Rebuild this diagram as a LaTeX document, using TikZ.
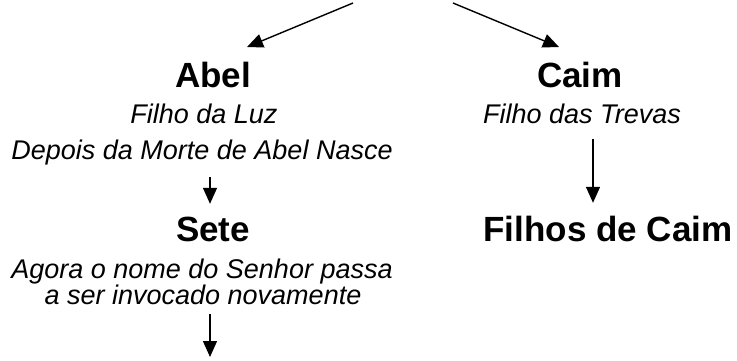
\documentclass[tikz,border=0pt]{standalone}
\usepackage{fontspec}
\setmainfont{Liberation Sans}
\usetikzlibrary{arrows.meta}
\tikzset{
  title/.style={font=\fontsize{35}{40}\selectfont\bfseries, inner sep=0pt, anchor=base, text height=25pt, text depth=7pt},
  sub/.style={font=\fontsize{27}{31}\selectfont\itshape, inner sep=0pt, anchor=base, text height=20pt, text depth=6pt},
  arr/.style={line width=1.4pt, -{Triangle[length=16pt,width=14pt]}},
}
\begin{document}
\begin{tikzpicture}[x=1pt,y=-1pt]
\useasboundingbox (0,0) rectangle (737,360);
% left column
\node[title] (abel)   at (213,87)  {Abel};
\node[sub]   (luz)    at (204,123) {Filho da Luz};
\node[sub]   (depois) at (202,159) {Depois da Morte de Abel Nasce};
\node[title] (sete)   at (213,241) {Sete};
\node[sub]   (agora1) at (202,278) {Agora o nome do Senhor passa};
\node[sub]   (agora2) at (203,304) {a ser invocado novamente};
% right column
\node[title] (caim)    at (580,87)  {Caim};
\node[sub]   (trevas)  at (582,123) {Filho das Trevas};
\node[title] (filhos)  at (608,241) {Filhos de Caim};
% free ends
\coordinate (topL) at (353,3);
\coordinate (topR) at (453,3);
\coordinate (tipL) at (247,47);
\coordinate (tipR) at (559,47);
\coordinate (axL) at (210,0);
\coordinate (axR) at (593,0);
\coordinate (bottom) at (210,357);
% connectors
\draw[arr] (topL) -- (tipL);
\draw[arr] (topR) -- (tipR);
\draw[arr, shorten <=12pt, shorten >=12pt] (depois.south -| axL) -- (sete.north -| axL);
\draw[arr, shorten <=10pt, shorten >=13pt] (trevas.south -| axR) -- (filhos.north -| axR);
\draw[arr, shorten <=4pt] (agora2.south -| axL) -- (bottom);
\end{tikzpicture}
\end{document}
